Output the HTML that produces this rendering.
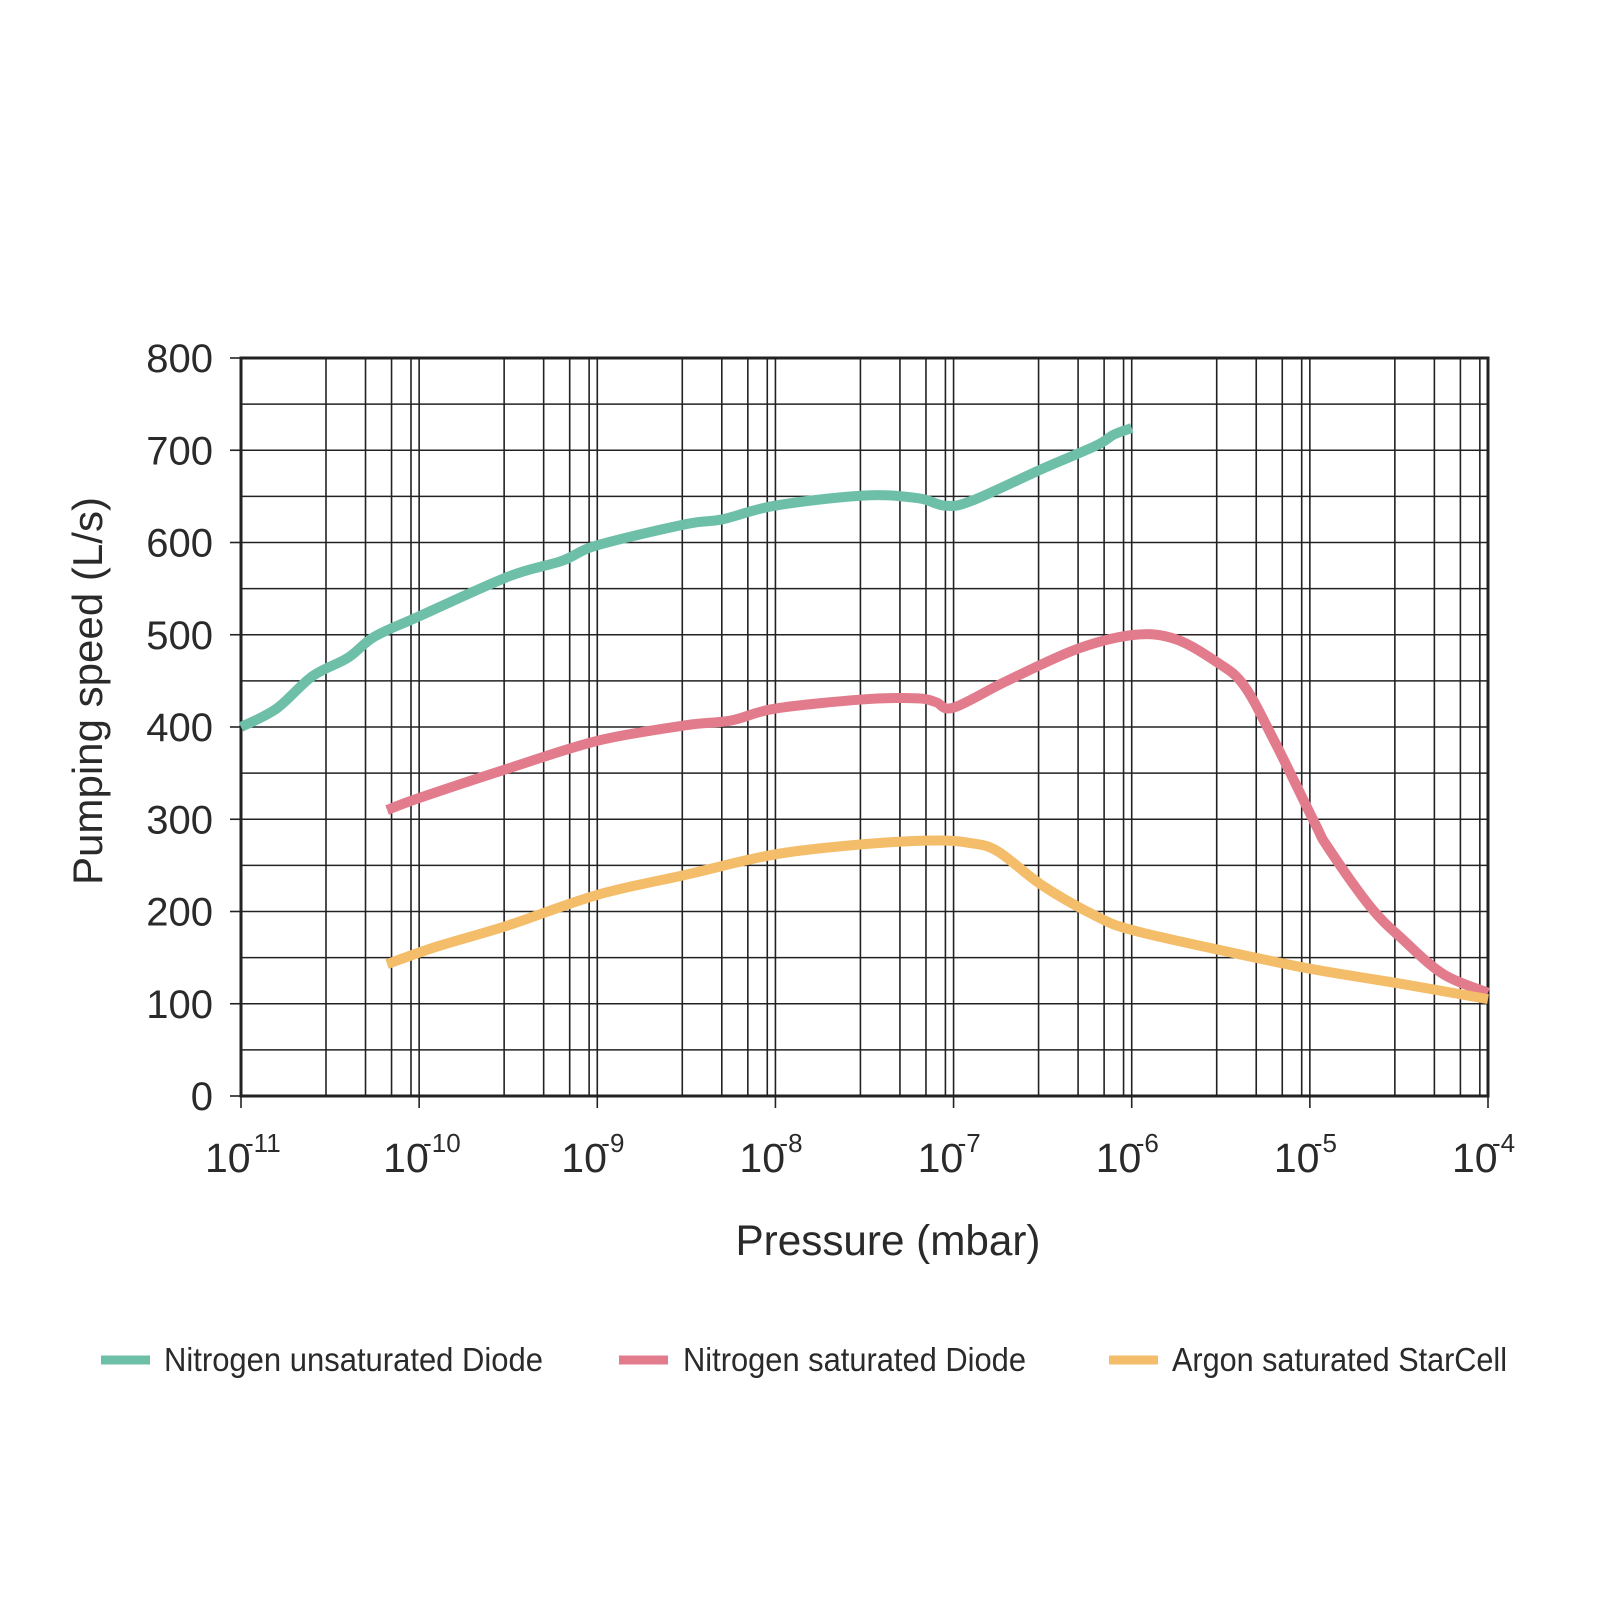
<!DOCTYPE html>
<html><head><meta charset="utf-8"><style>
html,body{margin:0;padding:0;background:#fff}
svg{display:block}
text{font-family:"Liberation Sans",sans-serif;fill:#2a2a2a}
</style></head><body>
<svg id="s" width="1600" height="1600" viewBox="0 0 1600 1600" xmlns="http://www.w3.org/2000/svg">
<g id="grid" stroke="#222" stroke-width="1.6" fill="none"></g>
<rect x="241" y="358" width="1247" height="738" fill="none" stroke="#222" stroke-width="3"/>
<g id="curves" fill="none" stroke-width="10" stroke-linejoin="round"></g>
<g id="labels" font-size="40"></g>
<text x="888" y="1255" font-size="43" text-anchor="middle" textLength="305" lengthAdjust="spacingAndGlyphs">Pressure (mbar)</text>
<text transform="translate(102,691) rotate(-90)" font-size="42" text-anchor="middle" textLength="388" lengthAdjust="spacingAndGlyphs">Pumping speed (L/s)</text>
<line x1="101" y1="1360" x2="150" y2="1360" stroke="#6dbfa8" stroke-width="9"/>
<text x="164" y="1371" font-size="33" textLength="379" lengthAdjust="spacingAndGlyphs">Nitrogen unsaturated Diode</text>
<line x1="619" y1="1360" x2="668" y2="1360" stroke="#e27c8c" stroke-width="9"/>
<text x="683" y="1371" font-size="33" textLength="343" lengthAdjust="spacingAndGlyphs">Nitrogen saturated Diode</text>
<line x1="1109" y1="1360" x2="1158" y2="1360" stroke="#f4bd69" stroke-width="9"/>
<text x="1172" y="1371" font-size="33" textLength="335" lengthAdjust="spacingAndGlyphs">Argon saturated StarCell</text>
</svg>
<script>
var L=241,R=1488,T=358,B=1096,D=(R-L)/7,K=(B-T)/800;
function X(d){return L+d*D}function Y(v){return B-v*K}
var g=document.getElementById('grid'),lab=document.getElementById('labels'),NS='http://www.w3.org/2000/svg';
function el(p,t,a,txt){var e=document.createElementNS(NS,t);for(var k in a)e.setAttribute(k,a[k]);if(txt!=null)e.textContent=txt;p.appendChild(e);return e}
for(var v=50;v<800;v+=50)el(g,'line',{x1:L,x2:R,y1:Y(v),y2:Y(v)});
for(var v=0;v<=800;v+=100){el(g,'line',{x1:230,x2:L,y1:Y(v),y2:Y(v)});el(lab,'text',{x:213,y:Y(v)+14,'text-anchor':'end'},String(v));}
for(var d=0;d<7;d++){[3,5,7,9].forEach(function(m){var x=X(d+Math.log10(m));el(g,'line',{x1:x,x2:x,y1:T,y2:B})});
 if(d>0)el(g,'line',{x1:X(d),x2:X(d),y1:T,y2:B});}
for(var d=0;d<=7;d++){var x=X(d);el(g,'line',{x1:x,x2:x,y1:B,y2:B+12});
 var t=el(lab,'text',{x:x-36,y:1172,'font-size':41},'10');
 el(lab,'text',{x:x+4,y:1152,'font-size':26},'-'+(11-d));}
function path(pts,c){var p=pts.map(function(a){return[X(a[0]),Y(a[1])]});var s='M'+p[0][0]+','+p[0][1];
 for(var i=0;i<p.length-1;i++){var p0=p[i-1]||p[i],p1=p[i],p2=p[i+1],p3=p[i+2]||p2;
 s+=' C'+(p1[0]+(p2[0]-p0[0])/6)+','+(p1[1]+(p2[1]-p0[1])/6)+' '+(p2[0]-(p3[0]-p1[0])/6)+','+(p2[1]-(p3[1]-p1[1])/6)+' '+p2[0]+','+p2[1];}
 el(document.getElementById('curves'),'path',{d:s,stroke:c});}
path([[0,400],[0.2,420],[0.4,455],[0.6,475],[0.75,498],[1,520],[1.5,563],[1.8,580],[2,597],[2.5,620],[2.7,625],[3,640],[3.5,651],[3.8,648],[3.95,640],[4.1,645],[4.5,680],[4.8,705],[4.9,717],[5,724]],'#6dbfa8');
path([[0.82,310],[1,323],[1.5,355],[2,385],[2.5,402],[2.75,407],[3,420],[3.5,430],[3.8,431],[3.9,427],[4,421],[4.3,450],[4.7,485],[5.02,500],[5.25,495],[5.48,470],[5.63,445],[5.8,385],[6.03,295],[6.1,270],[6.34,205],[6.52,170],[6.75,132],[7,112]],'#e27c8c');
path([[0.82,143],[1.1,162],[1.5,185],[2,218],[2.5,240],[3,262],[3.5,273],[3.9,277],[4.1,274],[4.25,265],[4.5,228],[4.8,195],[5,180],[5.5,158],[6,138],[6.5,122],[7,105]],'#f4bd69');
</script>
</body></html>
